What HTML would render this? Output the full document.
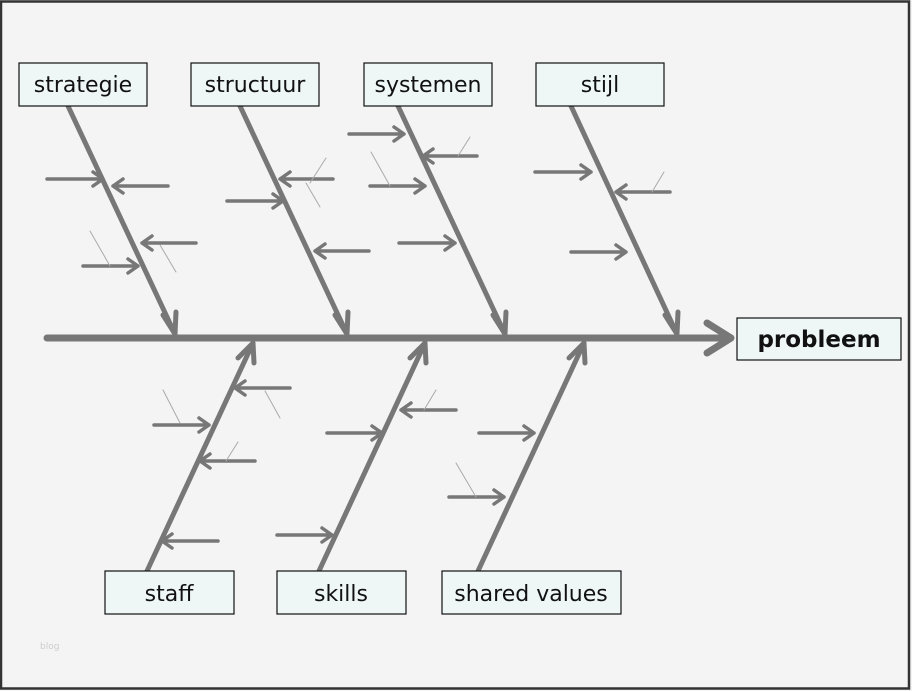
<!DOCTYPE html>
<html><head><meta charset="utf-8"><style>
html,body{margin:0;padding:0;background:#f4f4f4;}
svg{display:block;}
text{font-family:"DejaVu Sans","Liberation Sans",sans-serif;}
</style></head><body>
<svg width="912" height="691" viewBox="0 0 912 691" xmlns="http://www.w3.org/2000/svg">
<rect x="1" y="1.5" width="908" height="687" fill="#f4f4f4" stroke="#333" stroke-width="2.5"/>
<g stroke="#777" fill="none" stroke-linecap="round" stroke-linejoin="round">
<line x1="47" y1="338" x2="730" y2="338" stroke-width="7"/>
<polyline points="707,323 731,338 707,353" stroke-width="7"/>
<g stroke-width="5">
<line x1="68" y1="106" x2="175" y2="334"/><polyline points="163,315 175,334 176,312"/>
<line x1="240" y1="106" x2="347" y2="334"/><polyline points="335,315 347,334 348,312"/>
<line x1="398" y1="106" x2="505" y2="334"/><polyline points="493,315 505,334 506,312"/>
<line x1="571" y1="106" x2="677" y2="334"/><polyline points="665,315 677,334 678,312"/>
<line x1="147" y1="571" x2="253" y2="343"/><polyline points="238,358 253,343 254,363"/>
<line x1="319" y1="571" x2="425" y2="343"/><polyline points="410,358 425,343 426,363"/>
<line x1="478" y1="571" x2="584" y2="343"/><polyline points="569,358 584,343 585,363"/>
</g>
<g stroke-width="3.5">
<path d="M47,179H103M93,172L103,179L93,186"/>
<path d="M168,186H113M123,179L113,186L123,193"/>
<path d="M196,243H142M152,236L142,243L152,250"/>
<path d="M83,266H138M128,259L138,266L128,273"/>
<path d="M333,179H280M290,172L280,179L290,186"/>
<path d="M227,201H283M273,194L283,201L273,208"/>
<path d="M369,251H315M325,244L315,251L325,258"/>
<path d="M349,134H404M394,127L404,134L394,141"/>
<path d="M477,156H423M433,149L423,156L433,163"/>
<path d="M370,186H425M415,179L425,186L415,193"/>
<path d="M399,243H455M445,236L455,243L445,250"/>
<path d="M535,172H591M581,165L591,172L581,179"/>
<path d="M670,192H616M626,185L616,192L626,199"/>
<path d="M571,252H626M616,245L626,252L616,259"/>
<path d="M290,388H235M245,381L235,388L245,395"/>
<path d="M154,425H209M199,418L209,425L199,432"/>
<path d="M255,461H200M210,454L200,461L210,468"/>
<path d="M218,541H162M172,534L162,541L172,548"/>
<path d="M456,410H401M411,403L401,410L411,417"/>
<path d="M327,433H382M372,426L382,433L372,440"/>
<path d="M277,535H332M322,528L332,535L322,542"/>
<path d="M479,433H534M524,426L534,433L524,440"/>
<path d="M449,497H504M494,490L504,497L494,504"/>
</g>
<g stroke="#aaa" stroke-width="1">
<line x1="90" y1="231" x2="110" y2="266"/><line x1="160" y1="245" x2="176" y2="272"/>
<line x1="326" y1="158" x2="310" y2="183"/><line x1="306" y1="183" x2="320" y2="207"/>
<line x1="371" y1="152" x2="390" y2="186"/><line x1="470" y1="137" x2="458" y2="156"/>
<line x1="664" y1="172" x2="652" y2="192"/>
<line x1="163" y1="390" x2="180" y2="423"/><line x1="265" y1="391" x2="280" y2="418"/>
<line x1="238" y1="442" x2="226" y2="461"/><line x1="436" y1="390" x2="424" y2="410"/>
<line x1="456" y1="463" x2="476" y2="497"/>
</g>
</g>
<g fill="#eef6f6" stroke="#111" stroke-width="1.2">
<rect x="19" y="63" width="128" height="43"/>
<rect x="191" y="63" width="128" height="43"/>
<rect x="364" y="63" width="128" height="43"/>
<rect x="536" y="63" width="128" height="43"/>
<rect x="105" y="571" width="129" height="43"/>
<rect x="277" y="571" width="129" height="43"/>
<rect x="442" y="571" width="179" height="43"/>
<rect x="737" y="318" width="164" height="42"/>
</g>
<g font-size="22" fill="#111" text-anchor="middle">
<text x="83" y="92">strategie</text>
<text x="255" y="92">structuur</text>
<text x="428" y="92">systemen</text>
<text x="600" y="92">stijl</text>
<text x="169" y="601">staff</text>
<text x="341" y="601">skills</text>
<text x="531" y="601">shared values</text>
<text x="819" y="347" font-weight="bold" font-size="23">probleem</text>
</g>
<text x="40" y="649" font-size="9" fill="#ccc">blog</text>
</svg>
</body></html>
